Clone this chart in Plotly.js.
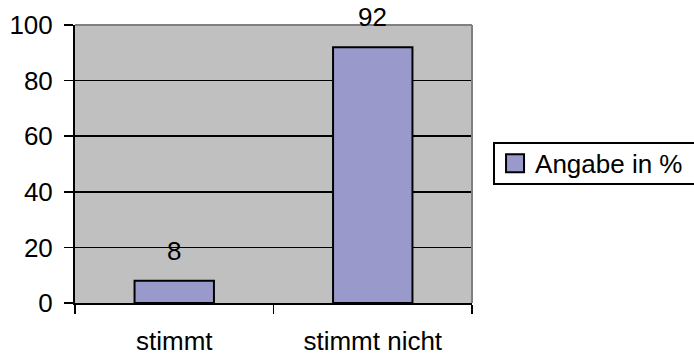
<!DOCTYPE html>
<html><head><meta charset="utf-8">
<script src="https://cdn.plot.ly/plotly-3.0.1.min.js"></script>
<style>html,body{margin:0;padding:0;background:#fff}</style>
</head><body>
<div id="chart" style="width:694px;height:358px"></div>
<script>
const categories = ["stimmt", "stimmt nicht"];
const values = [8, 92];
const seriesName = "Angabe in %";
const yTicks = [0, 20, 40, 60, 80, 100];

const font = {family: "Liberation Sans, Arial, sans-serif", size: 26, color: "#000"};

Plotly.newPlot("chart", [{
  type: "bar",
  x: categories,
  y: values,
  name: seriesName,
  marker: {color: "#9999cc", line: {color: "#000", width: 2}},
  showlegend: true
}], {
  width: 694, height: 358,
  margin: {l: 75, r: 222, t: 25, b: 55, autoexpand: false},
  paper_bgcolor: "#fff",
  plot_bgcolor: "#c0c0c0",
  font: font,
  bargap: 0.6,
  xaxis: {
    type: "category",
    tickson: "boundaries",
    ticks: "outside", ticklen: 9, tickcolor: "#000", tickwidth: 1.5,
    showline: true, linecolor: "#000", linewidth: 2,
    showgrid: false,
    ticklabelstandoff: 14,
    tickfont: font
  },
  yaxis: {
    range: [0, 100],
    tickvals: yTicks,
    ticks: "outside", ticklen: 9, tickcolor: "#000", tickwidth: 1.5,
    showline: true, linecolor: "#000", linewidth: 2,
    showgrid: true, gridcolor: "#000", gridwidth: 1.5,
    zeroline: false,
    ticklabelstandoff: 6,
    tickfont: font
  },
  annotations: categories.map((c, i) => ({
    x: c, y: values[i], xref: "x", yref: "y",
    text: String(values[i]), showarrow: false,
    yanchor: "bottom", yshift: 13, font: font
  })),
  shapes: [
    {type: "line", xref: "paper", yref: "paper", x0: 0, x1: 1, y0: 1, y1: 1, line: {color: "#808080", width: 2}},
    {type: "line", xref: "paper", yref: "paper", x0: 1, x1: 1, y0: 0, y1: 1, line: {color: "#808080", width: 2}}
  ],
  legend: {
    x: 1.053, xanchor: "left", y: 0.502, yanchor: "middle",
    bordercolor: "#000", borderwidth: 2, bgcolor: "#fff",
    itemwidth: 30,
    font: font
  }
}, {displayModeBar: false, staticPlot: true}).then(() => {
  document.querySelectorAll("#chart .legendpoints path").forEach(p => {
    p.setAttribute("d", "M9,9H-9V-9H9Z");
  });
  document.querySelectorAll("#chart .legend rect.bg").forEach(r => {
    const y = parseFloat(r.getAttribute("y") || 0);
    const h = parseFloat(r.getAttribute("height"));
    const w = parseFloat(r.getAttribute("width"));
    r.setAttribute("y", y + 4);
    r.setAttribute("height", h - 8);
    r.setAttribute("width", w + 20);
  });
});
</script>
</body></html>
